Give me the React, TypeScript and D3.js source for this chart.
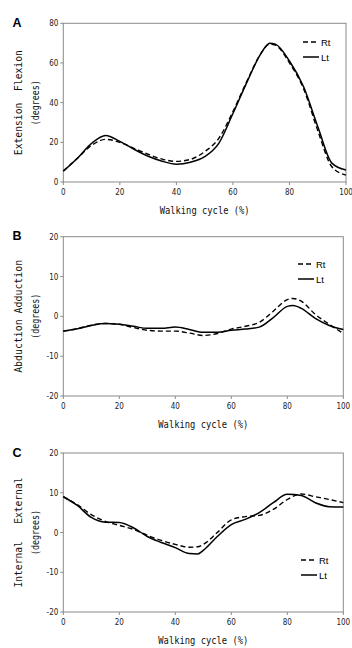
import * as d3 from "d3";

// ── Data — gait kinematics, right vs left, % of walking cycle ──
const CYCLE = [0, 5, 10, 15, 20, 25, 30, 35, 40, 45, 50, 55, 60, 65, 70, 73, 75, 80, 85, 90, 95, 100];
const A_LT = [5.5, 12, 19.5, 23.5, 20.5, 16.5, 13, 10.5, 9, 10, 12.8, 19.5, 34.5, 50.5, 65, 70, 69.5, 61, 48, 28, 9.5, 6];
const A_RT = [5.5, 12, 18.5, 21.5, 20, 17, 14, 11.5, 10.4, 11.4, 15.3, 22, 35.5, 51, 65, 69.5, 69, 60, 47, 26, 7.7, 3.5];

const CYCLE_B = [0, 5, 10, 15, 20, 25, 30, 35, 40, 45, 50, 55, 60, 65, 70, 75, 80, 82, 85, 90, 95, 100];
const B_LT = [-3.7, -3.1, -2.3, -1.8, -2, -2.5, -3, -3, -2.7, -3.3, -4, -4, -3.5, -3.2, -2.7, -0.3, 2.5, 2.7, 2, -0.5, -2.3, -3.3];
const B_RT = [-3.7, -3.1, -2.2, -1.8, -2, -2.8, -3.5, -3.7, -3.7, -4.2, -4.8, -4.3, -3.2, -2.5, -1.5, 1.3, 4.2, 4.5, 3.8, 0.5, -2, -4.3];

const CYCLE_C = [0, 5, 10, 15, 20, 25, 30, 35, 40, 45, 48, 50, 55, 60, 65, 70, 75, 80, 85, 90, 95, 100];
const C_LT = [9, 6.8, 3.8, 2.6, 2.5, 1.2, -1, -2.5, -3.8, -5.3, -5.4, -4.5, -1, 2, 3.3, 5, 7.5, 9.6, 9.3, 7.5, 6.5, 6.4];
const C_RT = [9, 7, 4.5, 2.8, 1.8, 0.8, -0.7, -2, -3, -3.7, -3.6, -3, 0, 3.2, 4, 4.3, 5.8, 8.3, 9.7, 9, 8.3, 7.5];

const X_TICKS = [0, 20, 40, 60, 80, 100];
const A_TICKS = [0, 20, 40, 60, 80];
const BC_TICKS = [-20, -10, 0, 10, 20];

// ── Panel geometry ────────────────────────────────────────────
interface PanelDef {
  letter: string;
  yLabel: string;
  yLabelLen: number;
  x: number[];
  rt: number[];
  lt: number[];
  domain: [number, number];
  ticks: number[];
  top: number;
  bottom: number;
  right: number;
  legendX: number;
  legendY: number;
}

const PANELS: PanelDef[] = [
  { letter: "A", yLabel: "Extension  Flexion", yLabelLen: 105, x: CYCLE, rt: A_RT, lt: A_LT, domain: [0, 80], ticks: A_TICKS,
    top: 23.3, bottom: 182, right: 346, legendX: 303, legendY: 42 },
  { letter: "B", yLabel: "Abduction Adduction", yLabelLen: 113, x: CYCLE_B, rt: B_RT, lt: B_LT, domain: [-20, 20], ticks: BC_TICKS,
    top: 236.7, bottom: 396, right: 343.3, legendX: 298, legendY: 264 },
  { letter: "C", yLabel: "Internal   External", yLabelLen: 110, x: CYCLE_C, rt: C_RT, lt: C_LT, domain: [-20, 20], ticks: BC_TICKS,
    top: 453, bottom: 612, right: 343.3, legendX: 301, legendY: 560 },
];

const LEFT = 63.3;
const AXIS = "#8a8a8a";
const MONO = "'DejaVu Sans Mono', monospace";
const NARROW = "'Liberation Sans Narrow', 'DejaVu Sans Condensed', 'Liberation Sans', sans-serif";

function Panel({ p }: { p: PanelDef }) {
  const x = d3.scaleLinear().domain([0, 100]).range([LEFT, p.right]);
  const y = d3.scaleLinear().domain(p.domain).range([p.bottom, p.top]);
  const line = d3
    .line<number>()
    .x((_, i) => x(p.x[i]))
    .y((d) => y(d))
    .curve(d3.curveMonotoneX);
  const midY = (p.top + p.bottom) / 2;
  const midX = (LEFT + p.right) / 2;

  return (
    <g>
      <text x={12.5} y={p.top + 3.5} fontFamily="'Liberation Sans', Arial, sans-serif" fontWeight={700} fontSize={12.5}>
        {p.letter}
      </text>

      {/* frame */}
      <rect x={LEFT} y={p.top} width={p.right - LEFT} height={p.bottom - p.top} fill="none" stroke={AXIS} strokeWidth={1} />

      {/* y ticks */}
      {p.ticks.map((t) => (
        <g key={`y${t}`}>
          <line x1={LEFT - 3} x2={LEFT} y1={y(t)} y2={y(t)} stroke={AXIS} />
          <text x={LEFT - 5} y={y(t) + 3} textAnchor="end" fontSize={8} fontFamily={NARROW} fill="#222">
            {t}
          </text>
        </g>
      ))}

      {/* x ticks */}
      {X_TICKS.map((t) => (
        <g key={`x${t}`}>
          <line x1={x(t)} x2={x(t)} y1={p.bottom} y2={p.bottom + 3} stroke={AXIS} />
          <text x={x(t)} y={p.bottom + 12.5} textAnchor="middle" fontSize={8} fontFamily={NARROW} fill="#222">
            {t}
          </text>
        </g>
      ))}

      {/* curves */}
      <path d={line(p.rt) ?? ""} fill="none" stroke="#000" strokeWidth={1.4} strokeDasharray="5,3" />
      <path d={line(p.lt) ?? ""} fill="none" stroke="#000" strokeWidth={1.5} />

      {/* legend */}
      <line x1={p.legendX} x2={p.legendX + 16} y1={p.legendY} y2={p.legendY} stroke="#000" strokeWidth={1.4} strokeDasharray="5,3" />
      <text x={p.legendX + 18} y={p.legendY + 3.5} fontSize={9.5} fontFamily="'Liberation Sans', sans-serif">Rt</text>
      <line x1={p.legendX} x2={p.legendX + 16} y1={p.legendY + 15} y2={p.legendY + 15} stroke="#000" strokeWidth={1.5} />
      <text x={p.legendX + 18} y={p.legendY + 18.5} fontSize={9.5} fontFamily="'Liberation Sans', sans-serif">Lt</text>

      {/* axis titles */}
      <text x={midX} y={p.bottom + 32} textAnchor="middle" fontSize={10.5} fontFamily={MONO} fill="#111"
        textLength={90} lengthAdjust="spacingAndGlyphs">
        Walking cycle (%)
      </text>
      <text transform={`translate(21.5,${midY}) rotate(-90)`} textAnchor="middle" fontSize={11} fontFamily={MONO}
        fill="#111" style={{ whiteSpace: "pre" }} textLength={p.yLabelLen} lengthAdjust="spacingAndGlyphs">
        {p.yLabel}
      </text>
      <text transform={`translate(38.5,${midY}) rotate(-90)`} textAnchor="middle" fontSize={10.5} fontFamily={MONO}
        fill="#111" textLength={45} lengthAdjust="spacingAndGlyphs">
        (degrees)
      </text>
    </g>
  );
}

export default function App() {
  return (
    <svg width={352} height={648} style={{ position: "absolute", left: 0, top: 0, background: "#fff" }}>
      {PANELS.map((p) => (
        <Panel key={p.letter} p={p} />
      ))}
    </svg>
  );
}
